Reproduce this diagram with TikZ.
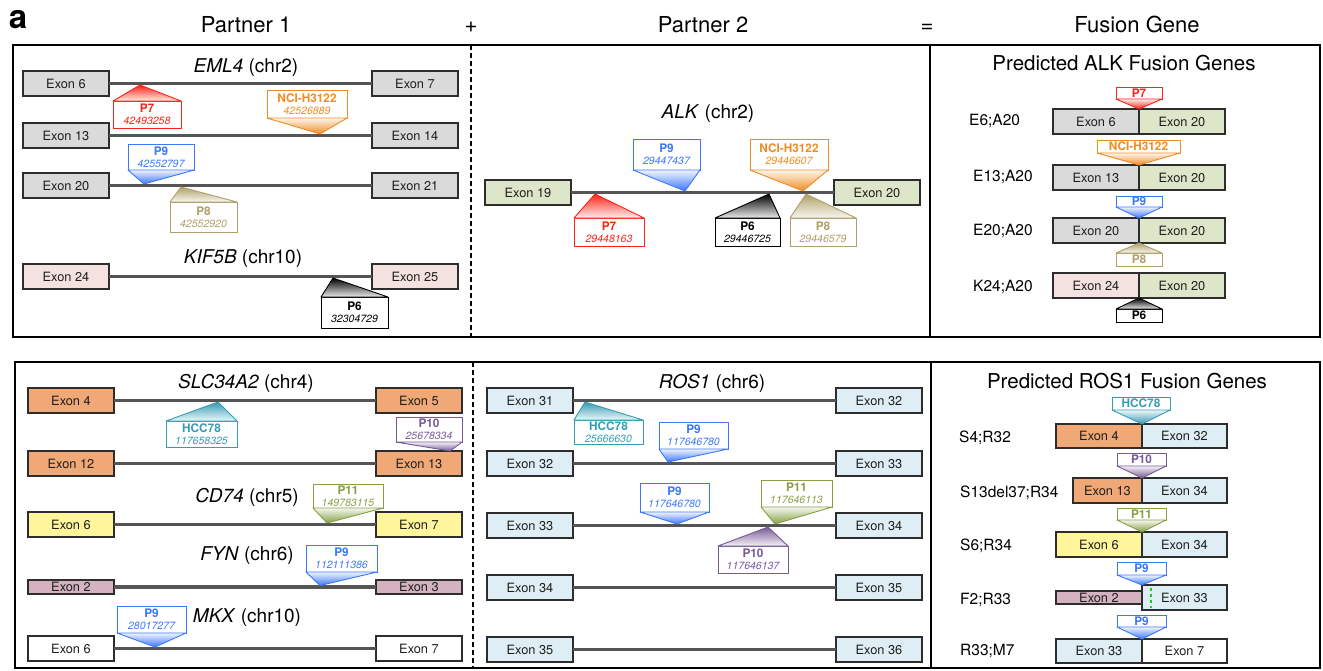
\documentclass[tikz,border=0pt]{standalone}
\usepackage{fontspec}
\setmainfont{TeX Gyre Heros}
\usetikzlibrary{shadings}
\definecolor{cRed}{RGB}{250,35,25}
\definecolor{cOrange}{RGB}{240,140,35}
\definecolor{cBlue}{RGB}{60,120,250}
\definecolor{cTan}{RGB}{175,160,105}
\definecolor{cTeal}{RGB}{55,155,180}
\definecolor{cPurple}{RGB}{120,90,150}
\definecolor{cGreen}{RGB}{135,160,70}
\definecolor{cDash}{RGB}{40,200,40}
\definecolor{fGray}{RGB}{218,218,218}
\definecolor{fPink}{RGB}{243,226,223}
\definecolor{fGreenE}{RGB}{222,230,201}
\definecolor{fOrange}{RGB}{240,168,118}
\definecolor{fYellow}{RGB}{255,245,155}
\definecolor{fMauve}{RGB}{212,178,192}
\definecolor{fBlue}{RGB}{222,238,244}
\definecolor{exonb}{RGB}{45,45,45}
\definecolor{intronc}{RGB}{85,85,85}
\newcommand{\myExonFont}{\fontsize{12.8}{14}\selectfont\color[RGB]{30,30,30}}
\newcommand{\myHeadFont}{\fontsize{22}{26}\selectfont}
\newcommand{\myGeneFont}{\fontsize{19}{22}\selectfont}
\newcommand{\myTitleFont}{\fontsize{20.5}{24}\selectfont}
\newcommand{\myRowFont}{\fontsize{15.5}{18}\selectfont}
\newcommand{\myMkFont}{\fontsize{10.5}{12}\selectfont}
\newcommand{\mktwo}[2]{{\fontsize{11.8}{12}\selectfont\bfseries #1}\\{\itshape #2}}
\newcommand{\mkone}[1]{{\fontsize{11.8}{12}\selectfont\bfseries #1}}
% marker with box below the line and apex above
\newcommand{\mkup}[8]{%
  \node[mkbox, draw=#2, text=#2, minimum width=#5pt, minimum height=#6pt] (#1) at (#3,#4) {#7};
  \coordinate (#1-tip) at (#8);
  \shadedraw[draw=#2, line width=0.9pt, line join=round, top color=#2, bottom color=#2!8] (#1-tip) -- (#1.north east) -- (#1.north west) -- cycle;
}
% marker with box above the line and apex below
\newcommand{\mkdn}[8]{%
  \node[mkbox, draw=#2, text=#2, minimum width=#5pt, minimum height=#6pt] (#1) at (#3,#4) {#7};
  \coordinate (#1-tip) at (#8);
  \shadedraw[draw=#2, line width=0.9pt, line join=round, top color=#2!8, bottom color=#2] (#1.south west) -- (#1-tip) -- (#1.south east) -- cycle;
}
\begin{document}
\begin{tikzpicture}[x=1pt,y=-1pt,
  exon/.style={draw=exonb, line width=1.2pt, minimum width=86pt, minimum height=25pt, inner sep=0pt, outer sep=0pt, font=\myExonFont, anchor=north west},
  intron/.style={draw=intronc, line width=3.5pt},
  mkbox/.style={fill=white, line width=0.9pt, inner sep=0pt, outer sep=0pt, align=center, font=\myMkFont},
  hdtext/.style={font=\myHeadFont, anchor=base, inner sep=0pt},
  genetext/.style={font=\myGeneFont, anchor=base, inner sep=0pt},
  titletext/.style={font=\myTitleFont, anchor=base, inner sep=0pt},
  rowtext/.style={font=\myRowFont, anchor=base west, inner sep=0pt},
  panel/.style={draw=black, line width=2.6pt},
  divider/.style={draw=black, line width=2.2pt, dash pattern=on 5pt off 3pt},
]
\useasboundingbox (0,0) rectangle (1323,670);

% headings
\node[hdtext] (hA) at (18,28) {\fontsize{33}{36}\selectfont\bfseries a};
\node[hdtext] (hP1) at (246,32) {Partner 1};
\node[hdtext] (hPlus) at (471,32) {+};
\node[hdtext] (hP2) at (703,32) {Partner 2};
\node[hdtext] (hEq) at (927,32) {=};
\node[hdtext] (hFG) at (1137,32) {Fusion Gene};

% panels
\draw[panel] (13,45) rectangle (930,337);
\draw[panel] (930,45) rectangle (1320,337);
\draw[divider] (471,45) -- (471,337);
\draw[panel] (15,362) rectangle (931,668);
\draw[panel] (931,362) rectangle (1320,668);
\draw[divider] (473,362) -- (473,668);

% ---------- top left: EML4 / KIF5B
\node[genetext] (gEML) at (246,72) {\textit{EML4} (chr2)};
\node[genetext] (gKIF) at (243,263) {\textit{KIF5B} (chr10)};
\node[exon, fill=fGray] (t6) at (23,71) {Exon 6};
\node[exon, fill=fGray] (t7) at (372,71) {Exon 7};
\node[exon, fill=fGray] (t13) at (23,123) {Exon 13};
\node[exon, fill=fGray] (t14) at (372,123) {Exon 14};
\node[exon, fill=fGray] (t20) at (23,173) {Exon 20};
\node[exon, fill=fGray] (t21) at (372,173) {Exon 21};
\node[exon, fill=fPink] (t24) at (23,264) {Exon 24};
\node[exon, fill=fPink] (t25) at (372,264) {Exon 25};
\draw[intron] (t6) -- (t7);
\draw[intron] (t13) -- (t14);
\draw[intron] (t20) -- (t21);
\draw[intron] (t24) -- (t25);
\mkup{mP7a}{cRed}{147}{114.5}{68}{27}{\mktwo{P7}{42493258}}{140,85}
\mkdn{mNCIa}{cOrange}{307}{104}{80}{28}{\mktwo{NCI-H3122}{42526889}}{320,134}
\mkdn{mP9a}{cBlue}{161}{157}{66}{26}{\mktwo{P9}{42552797}}{144,184}
\mkup{mP8a}{cTan}{203.5}{217}{67}{30}{\mktwo{P8}{42552920}}{181,187}
\mkup{mP6a}{black}{354.5}{312.5}{67}{31}{\mktwo{P6}{32304729}}{333,278}

% ---------- top middle: ALK
\node[genetext] (gALK) at (708,118) {\textit{ALK} (chr2)};
\node[exon, fill=fGreenE] (m19) at (485,180) {Exon 19};
\node[exon, fill=fGreenE] (m20) at (834,180) {Exon 20};
\draw[intron] (m19) -- (m20);
\mkdn{mP9b}{cBlue}{666.5}{154.5}{67}{31}{\mktwo{P9}{29447437}}{685,191}
\mkdn{mNCIb}{cOrange}{789}{154.5}{78}{31}{\mktwo{NCI-H3122}{29446607}}{803,191}
\mkup{mP7b}{cRed}{609}{232}{70}{28}{\mktwo{P7}{29448163}}{595,194}
\mkup{mP6b}{black}{747.5}{232}{65}{28}{\mktwo{P6}{29446725}}{769,194}
\mkup{mP8b}{cTan}{823}{232}{66}{28}{\mktwo{P8}{29446579}}{806,194}

% ---------- top right: ALK fusions
\node[titletext] (tALK) at (1124,70) {Predicted ALK Fusion Genes};
\node[rowtext] (la1) at (969,125) {E6;A20};
\node[rowtext] (la2) at (973,181) {E13;A20};
\node[rowtext] (la3) at (973,235) {E20;A20};
\node[rowtext] (la4) at (973,291) {K24;A20};
\node[exon, fill=fGray] (fa1l) at (1053,109) {Exon 6};
\node[exon, fill=fGreenE] (fa1r) at (fa1l.north east) {Exon 20};
\node[exon, fill=fGray] (fa2l) at (1053,165) {Exon 13};
\node[exon, fill=fGreenE] (fa2r) at (fa2l.north east) {Exon 20};
\node[exon, fill=fGray] (fa3l) at (1053,218) {Exon 20};
\node[exon, fill=fGreenE] (fa3r) at (fa3l.north east) {Exon 20};
\node[exon, fill=fPink] (fa4l) at (1053,273) {Exon 24};
\node[exon, fill=fGreenE] (fa4r) at (fa4l.north east) {Exon 20};
\mkdn{fmP7}{cRed}{1139}{93}{46}{12}{\mkone{P7}}{fa1l.north east}
\mkdn{fmNCI}{cOrange}{1138.5}{146.5}{83}{13}{\mkone{NCI-H3122}}{fa2l.north east}
\mkdn{fmP9}{cBlue}{1139}{201.5}{46}{11}{\mkone{P9}}{fa3l.north east}
\mkup{fmP8}{cTan}{1139}{259.5}{46}{13}{\mkone{P8}}{fa3l.south east}
\mkup{fmP6}{black}{1139}{315.5}{46}{13}{\mkone{P6}}{fa4l.south east}

% ---------- bottom left
\node[genetext] (gSLC) at (246,388) {\textit{SLC34A2} (chr4)};
\node[genetext] (gCD) at (247,502) {\textit{CD74} (chr5)};
\node[genetext] (gFYN) at (247,560) {\textit{FYN} (chr6)};
\node[genetext] (gMKX) at (247,622) {\textit{MKX} (chr10)};
\node[exon, fill=fOrange] (s4) at (28,388) {Exon 4};
\node[exon, fill=fOrange] (s5) at (376,388) {Exon 5};
\node[exon, fill=fOrange] (s12) at (28,451) {Exon 12};
\node[exon, fill=fOrange] (s13) at (376,451) {Exon 13};
\node[exon, fill=fYellow] (c6) at (28,512) {Exon 6};
\node[exon, fill=fYellow] (c7) at (376,512) {Exon 7};
\node[exon, fill=fMauve, minimum height=14pt] (y2) at (28,580) {Exon 2};
\node[exon, fill=fMauve, minimum height=14pt] (y3) at (376,580) {Exon 3};
\node[exon, fill=white] (k6) at (28,636) {Exon 6};
\node[exon, fill=white] (k7) at (376,636) {Exon 7};
\draw[intron] (s4) -- (s5);
\draw[intron] (s12) -- (s13);
\draw[intron] (c6) -- (c7);
\draw[intron] (y2) -- (y3);
\draw[intron] (k6) -- (k7);
\mkup{mHCCa}{cTeal}{201.5}{434}{71}{26}{\mktwo{HCC78}{117658325}}{218,402}
\mkdn{mP10a}{cPurple}{429}{429.5}{66}{25}{\mktwo{P10}{25678334}}{450,451}
\mkdn{mP11a}{cGreen}{348}{496}{70}{24}{\mktwo{P11}{149783115}}{327,523}
\mkdn{mP9c}{cBlue}{341.5}{558.5}{71}{27}{\mktwo{P9}{112111386}}{320,585.5}
\mkdn{mP9d}{cBlue}{151.5}{619.5}{69}{27}{\mktwo{P9}{28017277}}{155,647}

% ---------- bottom middle: ROS1
\node[genetext] (gROS) at (712,388) {\textit{ROS1} (chr6)};
\node[exon, fill=fBlue] (r31) at (487,388) {Exon 31};
\node[exon, fill=fBlue] (r32) at (836,388) {Exon 32};
\node[exon, fill=fBlue] (r32b) at (487,451) {Exon 32};
\node[exon, fill=fBlue] (r33) at (836,451) {Exon 33};
\node[exon, fill=fBlue] (r33b) at (487,513) {Exon 33};
\node[exon, fill=fBlue] (r34) at (836,513) {Exon 34};
\node[exon, fill=fBlue] (r34b) at (487,575) {Exon 34};
\node[exon, fill=fBlue] (r35) at (836,575) {Exon 35};
\node[exon, fill=fBlue] (r35b) at (487,637) {Exon 35};
\node[exon, fill=fBlue] (r36) at (836,637) {Exon 36};
\draw[intron] (r31) -- (r32);
\draw[intron] (r32b) -- (r33);
\draw[intron] (r33b) -- (r34);
\draw[intron] (r34b) -- (r35);
\draw[intron] (r35b) -- (r36);
\mkup{mHCCb}{cTeal}{608.5}{432}{69}{24}{\mktwo{HCC78}{25666630}}{585,402}
\mkdn{mP9e}{cBlue}{693.5}{435.5}{69}{27}{\mktwo{P9}{117646780}}{668,462}
\mkdn{mP9f}{cBlue}{674.5}{497.5}{69}{29}{\mktwo{P9}{117646780}}{677,524}
\mkdn{mP11b}{cGreen}{796.5}{493.5}{71}{27}{\mktwo{P11}{117646113}}{775,524}
\mkup{mP10b}{cPurple}{753}{559.5}{70}{27}{\mktwo{P10}{117646137}}{768,527}

% ---------- bottom right: ROS1 fusions
\node[titletext] (tROS) at (1127,388) {Predicted ROS1 Fusion Genes};
\node[rowtext] (lr1) at (959,442) {S4;R32};
\node[rowtext] (lr2) at (960,497) {S13del37;R34};
\node[rowtext] (lr3) at (960,550) {S6;R34};
\node[rowtext] (lr4) at (960,604) {F2;R33};
\node[rowtext] (lr5) at (960,655) {R33;M7};
\node[exon, fill=fOrange, minimum height=24pt] (fr1l) at (1056,424) {Exon 4};
\node[exon, fill=fBlue, minimum width=85pt, minimum height=24pt] (fr1r) at (fr1l.north east) {Exon 32};
\node[exon, fill=fOrange, minimum width=69pt] (fr2l) at (1073,478) {Exon 13};
\node[exon, fill=fBlue, minimum width=85pt] (fr2r) at (fr2l.north east) {Exon 34};
\node[exon, fill=fYellow] (fr3l) at (1056,532) {Exon 6};
\node[exon, fill=fBlue, minimum width=85pt] (fr3r) at (fr3l.north east) {Exon 34};
\node[exon, fill=fMauve, minimum height=13pt] (fr4l) at (1056,591) {Exon 2};
\node[exon, fill=fBlue, minimum width=85pt] (fr4r) at (1142,585) {Exon 33};
\draw[draw=cDash, dashed, line width=1.4pt] (1151,587.5) -- (1151,608);
\node[exon, fill=fBlue, minimum height=24pt] (fr5l) at (1056,639) {Exon 33};
\node[exon, fill=white, minimum width=85pt, minimum height=24pt] (fr5r) at (fr5l.north east) {Exon 7};
\mkdn{fmHCC}{cTeal}{1141}{403.5}{58}{13}{\mkone{HCC78}}{fr1l.north east}
\mkdn{fmP10}{cPurple}{1141.5}{459.5}{49}{13}{\mkone{P10}}{fr2l.north east}
\mkdn{fmP11}{cGreen}{1141.5}{514}{49}{12}{\mkone{P11}}{fr3l.north east}
\mkdn{fmP9a}{cBlue}{1141.5}{568.5}{49}{13}{\mkone{P9}}{fr4r.north west}
\mkdn{fmP9b}{cBlue}{1141.5}{621}{49}{12}{\mkone{P9}}{fr5l.north east}
\end{tikzpicture}
\end{document}
